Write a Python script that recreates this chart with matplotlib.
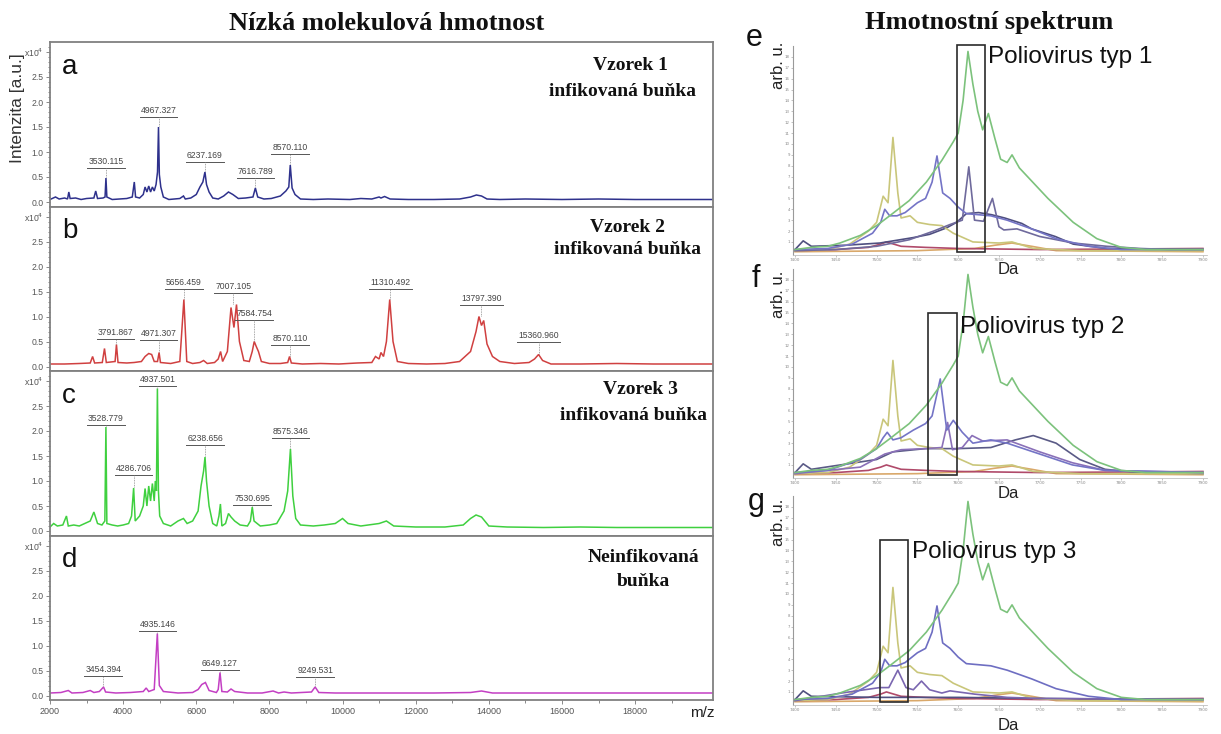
import matplotlib
matplotlib.use("Agg")
import matplotlib.pyplot as plt
from matplotlib.patches import Rectangle

# ---------------- data: left spectra (m/z, intensity x10^4) ----------------
A_MZ = [2000, 2150, 2250, 2400, 2480, 2515, 2550, 2700, 2850, 3000, 3200, 3250, 3300, 3450, 3505, 3530, 3555,
        3700, 3900, 4100, 4250, 4305, 4340, 4450, 4550, 4600, 4650, 4700, 4750, 4800, 4850, 4900, 4940, 4967,
        4990, 5030, 5100, 5250, 5400, 5550, 5650, 5700, 5850, 6000, 6100, 6180, 6237, 6280, 6350, 6450, 6600,
        6750, 6880, 7000, 7150, 7350, 7550, 7616, 7680, 7850, 8050, 8300, 8450, 8530, 8570, 8620, 8700, 8850,
        9200, 9600, 10200, 10500, 10800, 11000, 11050, 11150, 11300, 11800, 12500, 13200, 13500, 13660, 13800,
        13950, 14300, 15000, 16000, 17000, 18000, 19000, 20130]
A_I = [0.05, 0.10, 0.06, 0.08, 0.06, 0.20, 0.07, 0.08, 0.05, 0.07, 0.08, 0.22, 0.07, 0.08, 0.10, 0.48, 0.10,
       0.05, 0.06, 0.07, 0.10, 0.40, 0.10, 0.08, 0.15, 0.30, 0.20, 0.32, 0.20, 0.30, 0.22, 0.35, 0.60, 1.50,
       0.55, 0.30, 0.10, 0.05, 0.06, 0.07, 0.12, 0.06, 0.08, 0.15, 0.30, 0.40, 0.60, 0.35, 0.20, 0.08, 0.06,
       0.12, 0.20, 0.15, 0.07, 0.08, 0.10, 0.28, 0.10, 0.06, 0.07, 0.12, 0.22, 0.30, 0.74, 0.28, 0.15, 0.06,
       0.05, 0.06, 0.05, 0.07, 0.06, 0.10, 0.08, 0.11, 0.06, 0.05, 0.05, 0.06, 0.10, 0.14, 0.12,
       0.06, 0.05, 0.06, 0.05, 0.06, 0.05, 0.05, 0.05]

B_MZ = [2000, 2400, 2800, 3100, 3165, 3220, 3430, 3490, 3540, 3780, 3817, 3860, 4100, 4300, 4500, 4600, 4700,
        4780, 4850, 4940, 4983, 5020, 5300, 5550, 5661, 5740, 5900, 6100, 6200, 6300, 6500, 6600, 6665, 6720,
        6850, 6950, 7030, 7100, 7180, 7300, 7450, 7530, 7585, 7640, 7700, 7780, 8000, 8300, 8500, 8550, 8600,
        8900, 9400, 9900, 10400, 10800, 10900, 11000, 11050, 11120, 11200, 11290, 11380, 11500, 11800, 12300,
        12800, 13200, 13500, 13650, 13730, 13800, 13860, 13950, 14100, 14300, 14700, 15100, 15250, 15360,
        15470, 15700, 16500, 17500, 18500, 20130]
B_I = [0.05, 0.05, 0.06, 0.07, 0.20, 0.07, 0.08, 0.36, 0.08, 0.10, 0.44, 0.08, 0.07, 0.08, 0.10, 0.20, 0.26,
       0.24, 0.10, 0.10, 0.28, 0.08, 0.06, 0.10, 1.34, 0.10, 0.06, 0.08, 0.12, 0.06, 0.08, 0.15, 0.30, 0.10,
       0.30, 1.18, 0.78, 1.24, 0.50, 0.12, 0.10, 0.30, 0.50, 0.40, 0.30, 0.10, 0.06, 0.06, 0.08, 0.20, 0.07,
       0.05, 0.06, 0.05, 0.07, 0.08, 0.20, 0.15, 0.28, 0.20, 0.50, 1.34, 0.50, 0.10, 0.06, 0.05,
       0.06, 0.10, 0.30, 0.70, 1.00, 0.82, 0.92, 0.45, 0.20, 0.10, 0.06, 0.08, 0.15, 0.24,
       0.12, 0.05, 0.05, 0.06, 0.05, 0.05]

C_MZ = [2000, 2100, 2200, 2350, 2450, 2500, 2650, 2800, 2950, 3100, 3200, 3300, 3420, 3500, 3529, 3555, 3700,
        3850, 4000, 4150, 4230, 4287, 4330, 4450, 4550, 4600, 4650, 4700, 4750, 4800, 4850, 4880, 4910, 4937,
        4965, 5000, 5100, 5300, 5500, 5650, 5750, 5900, 6050, 6130, 6200, 6239, 6280, 6350, 6450, 6560, 6620,
        6660, 6700, 6800, 6880, 6950, 7050, 7200, 7400, 7480, 7531, 7580, 7750, 8000, 8200, 8400, 8500, 8575,
        8640, 8720, 8850, 9200, 9500, 9800, 10000, 10150, 10500, 11000, 11200, 11400, 12000, 12800, 13300,
        13500, 13650, 13800, 14000, 14500, 15500, 16500, 17500, 18500, 20130]
C_I = [0.08, 0.15, 0.10, 0.12, 0.30, 0.10, 0.12, 0.10, 0.15, 0.20, 0.38, 0.15, 0.12, 0.20, 2.08, 0.15, 0.12,
       0.10, 0.12, 0.15, 0.30, 0.86, 0.20, 0.30, 0.50, 0.85, 0.50, 0.90, 0.60, 0.95, 0.60, 1.00, 0.80, 2.85,
       0.80, 0.30, 0.15, 0.10, 0.20, 0.25, 0.15, 0.20, 0.40, 0.90, 1.20, 1.48, 1.00, 0.50, 0.15, 0.10, 0.30,
       0.54, 0.10, 0.15, 0.35, 0.28, 0.20, 0.12, 0.10, 0.20, 0.48, 0.20, 0.10, 0.12, 0.15, 0.40, 0.80, 1.64,
       0.70, 0.25, 0.12, 0.10, 0.12, 0.15, 0.25, 0.15, 0.10, 0.15, 0.20, 0.10, 0.08, 0.08, 0.12,
       0.25, 0.32, 0.28, 0.10, 0.08, 0.07, 0.08, 0.07, 0.07, 0.07]

D_MZ = [2000, 2300, 2500, 2600, 2900, 3100, 3200, 3350, 3465, 3520, 3800, 4200, 4550, 4630, 4700, 4850, 4935,
        4990, 5100, 5500, 5900, 6050, 6150, 6250, 6350, 6550, 6600, 6649, 6700, 6850, 6950, 7050, 7400, 7800,
        8100, 8250, 8400, 8600, 9150, 9250, 9350, 9800, 10500, 11500, 12500, 13500, 13800, 14100, 15500,
        17000, 18500, 20130]
D_I = [0.05, 0.06, 0.10, 0.05, 0.06, 0.10, 0.06, 0.08, 0.17, 0.07, 0.05, 0.06, 0.08, 0.15, 0.08, 0.12, 1.24,
       0.20, 0.08, 0.05, 0.06, 0.12, 0.22, 0.26, 0.10, 0.06, 0.12, 0.46, 0.08, 0.07, 0.13, 0.08, 0.05, 0.05,
       0.09, 0.05, 0.07, 0.05, 0.07, 0.17, 0.06, 0.05, 0.05, 0.05, 0.05, 0.06, 0.09, 0.05, 0.05,
       0.05, 0.05, 0.05]

# peak labels: m/z text, apex intensity, underline level
A_LAB = ["3530.115", "4967.327", "6237.169", "7616.789", "8570.110"]
A_LAB_APEX = [0.48, 1.50, 0.60, 0.28, 0.74]
A_LAB_Y = [0.68, 1.70, 0.80, 0.48, 0.96]
B_LAB = ["3791.867", "4971.307", "5656.459", "7007.105", "7584.754", "8570.110", "11310.492", "13797.390", "15360.960"]
B_LAB_APEX = [0.44, 0.28, 1.34, 1.24, 0.50, 0.20, 1.34, 1.00, 0.24]
B_LAB_Y = [0.56, 0.54, 1.56, 1.48, 0.94, 0.44, 1.56, 1.24, 0.50]
C_LAB = ["3528.779", "4286.706", "4937.501", "6238.656", "7530.695", "8575.346"]
C_LAB_APEX = [2.08, 0.86, 2.85, 1.48, 0.48, 1.64]
C_LAB_Y = [2.12, 1.12, 2.90, 1.72, 0.52, 1.86]
D_LAB = ["3454.394", "4935.146", "6649.127", "9249.531"]
D_LAB_APEX = [0.17, 1.24, 0.46, 0.17]
D_LAB_Y = [0.40, 1.30, 0.52, 0.38]

PANEL_LETTERS = ["a", "b", "c", "d"]
SAMPLE_LINE1 = ["Vzorek 1", "Vzorek 2", "Vzorek 3", "Neinfikovaná"]
SAMPLE_LINE2 = ["infikovaná buňka", "infikovaná buňka", "infikovaná buňka", "buňka"]
MZ_TICKS = [2000, 4000, 6000, 8000, 10000, 12000, 14000, 16000, 18000]
INT_TICKS = [0.0, 0.5, 1.0, 1.5, 2.0, 2.5]

# ---------------- data: right spectra (Da, arb. u.) ----------------
GREEN_DA = [7400, 7420, 7440, 7455, 7480, 7500, 7516, 7540, 7561, 7580, 7594, 7600, 7606, 7612, 7618, 7624,
            7630, 7637, 7645, 7652, 7660, 7666, 7675, 7690, 7710, 7741, 7770, 7800, 7830, 7900]
GREEN_Y = [0.3, 0.5, 0.6, 0.9, 1.6, 2.5, 3.4, 4.8, 6.5, 8.5, 10.2, 11.0, 14.0, 18.5, 15.5, 13.0,
           11.3, 12.8, 10.5, 8.6, 8.3, 9.0, 7.8, 6.6, 5.0, 2.8, 1.3, 0.5, 0.3, 0.3]
YELLOW_DA = [7400, 7440, 7467, 7490, 7500, 7508, 7514, 7520, 7526, 7530, 7541, 7550, 7565, 7580, 7594,
             7618, 7650, 7666, 7692, 7750, 7900]
YELLOW_Y = [0.2, 0.3, 0.8, 2.0, 2.8, 5.2, 4.6, 10.6, 5.5, 3.2, 3.4, 2.8, 2.6, 2.5, 1.8,
            1.0, 0.9, 1.0, 0.4, 0.2, 0.2]
BLUE_DA = [7400, 7440, 7470, 7495, 7505, 7510, 7516, 7525, 7535, 7550, 7560, 7568, 7574, 7581, 7590, 7600,
           7610, 7625, 7640, 7660, 7690, 7720, 7760, 7800, 7900]
BLUE_Y = [0.3, 0.4, 0.8, 1.8, 2.8, 4.0, 3.4, 3.4, 3.7, 4.6, 5.0, 6.5, 8.9, 5.5, 5.0, 4.2,
          3.6, 3.5, 3.4, 3.0, 2.2, 1.3, 0.6, 0.3, 0.3]
BLUE_F_DA = [7400, 7440, 7480, 7500, 7508, 7513, 7520, 7530, 7545, 7560, 7568, 7578, 7586, 7594, 7605,
             7618, 7640, 7660, 7700, 7740, 7780, 7900]
BLUE_F_Y = [0.3, 0.5, 1.5, 2.5, 3.5, 4.0, 3.3, 3.5, 4.2, 4.8, 5.5, 8.9, 4.2, 5.1, 4.0,
            3.0, 3.3, 3.0, 2.0, 1.0, 0.5, 0.3]
NAVY_E_DA = [7400, 7410, 7420, 7463, 7504, 7545, 7565, 7586, 7598, 7610, 7625, 7641, 7657, 7678, 7690,
             7719, 7741, 7782, 7900]
NAVY_E_Y = [0.3, 1.1, 0.6, 0.7, 0.9, 1.4, 1.7, 2.3, 2.8, 3.6, 3.7, 3.5, 3.2, 2.7, 2.2,
            1.5, 0.8, 0.4, 0.3]
SLATE_E_DA = [7400, 7450, 7500, 7540, 7570, 7590, 7605, 7613, 7620, 7631, 7642, 7650, 7656, 7672, 7700,
              7741, 7782, 7823, 7860, 7900]
SLATE_E_Y = [0.2, 0.3, 0.6, 1.2, 2.0, 2.6, 3.0, 7.9, 3.0, 2.9, 5.0, 2.4, 2.1, 2.2, 1.5,
             0.9, 0.6, 0.4, 0.3, 0.3]
PURPLE_F_DA = [7400, 7480, 7510, 7530, 7560, 7580, 7587, 7593, 7605, 7617, 7630, 7660, 7700, 7740, 7780, 7900]
PURPLE_F_Y = [0.2, 0.8, 2.0, 2.4, 2.5, 2.6, 4.9, 2.4, 2.6, 3.7, 3.2, 3.3, 2.2, 1.2, 0.5, 0.3]
NAVY_F_DA = [7400, 7410, 7420, 7500, 7520, 7560, 7600, 7640, 7670, 7692, 7720, 7749, 7780, 7820, 7900]
NAVY_F_Y = [0.3, 1.1, 0.6, 1.5, 2.2, 2.5, 2.5, 2.6, 3.3, 3.7, 3.0, 1.5, 0.6, 0.3, 0.2]
PURPLE_G_DA = [7400, 7457, 7504, 7515, 7526, 7536, 7545, 7555, 7565, 7580, 7590, 7620, 7660, 7700, 7900]
PURPLE_G_Y = [0.2, 0.9, 1.4, 1.4, 3.0, 1.4, 1.2, 2.0, 1.2, 0.9, 1.1, 0.8, 0.5, 0.4, 0.3]
NAVY_G_DA = [7400, 7410, 7420, 7500, 7600, 7700, 7900]
NAVY_G_Y = [0.3, 1.1, 0.6, 0.5, 0.5, 0.4, 0.3]
RED_DA = [7400, 7450, 7490, 7505, 7512, 7530, 7560, 7600, 7700, 7800, 7900]
RED_Y = [0.2, 0.3, 0.5, 0.8, 1.0, 0.6, 0.5, 0.4, 0.3, 0.35, 0.4]
ORANGE_DA = [7400, 7550, 7620, 7645, 7666, 7690, 7720, 7900]
ORANGE_Y = [0.1, 0.2, 0.4, 0.7, 0.9, 0.6, 0.2, 0.1]

DA_TICKS = [7400, 7450, 7500, 7550, 7600, 7650, 7700, 7750, 7800, 7850, 7900]
ARB_TICKS = list(range(1, 19))
BOX_E = [7598, 7633, 0.1, 19.1]
BOX_F = [7563, 7598, 0.1, 15.0]
BOX_G = [7504, 7538, 0.1, 15.0]
POLIO_LABELS = ["Poliovirus typ 1", "Poliovirus typ 2", "Poliovirus typ 3"]

# ---------------- figure ----------------
W, H = 1221, 734
fig = plt.figure(figsize=(W / 100, H / 100), dpi=100)
fig.patch.set_facecolor("white")
SERIF = ["Liberation Serif", "DejaVu Serif"]
SANS = ["Liberation Sans", "DejaVu Sans"]


def px_axes(l, t, r, b):
    return fig.add_axes([l / W, 1 - b / H, (r - l) / W, (b - t) / H])


def ftext(px, py, s, **kw):
    fig.text(px / W, 1 - py / H, s, **kw)


# titles
ftext(387, 24, "Nízká molekulová hmotnost", family=SERIF, weight="bold", fontsize=19,
      ha="center", va="center", color="#111111")
ftext(989, 22, "Hmotnostní spektrum", family=SERIF, weight="bold", fontsize=19,
      ha="center", va="center", color="#111111")

left_data = [(A_MZ, A_I, A_LAB, A_LAB_APEX, A_LAB_Y, "#2e318c"),
             (B_MZ, B_I, B_LAB, B_LAB_APEX, B_LAB_Y, "#d04040"),
             (C_MZ, C_I, C_LAB, C_LAB_APEX, C_LAB_Y, "#3fd03f"),
             (D_MZ, D_I, D_LAB, D_LAB_APEX, D_LAB_Y, "#c33fc3")]

PH = 164.5
sample_pos = [((630, 65), (623, 92)), ((628, 227), (628, 250)),
              ((640, 389), (633, 415)), ((643, 557), (643, 582))]
data_per_px = (20130 - 2000) / 663.0

for i, (mz, inten, labs, apex, laby, col) in enumerate(left_data):
    top = 42 + i * PH
    ax = px_axes(50, top, 713, top + PH)
    ax.set_xlim(2000, 20130)
    ax.set_ylim(-0.09, 3.2)
    ax.plot(mz, inten, color=col, lw=1.1, solid_joinstyle="miter")
    for txt, ap, uy in zip(labs, apex, laby):
        x = float(txt)
        hw = len(txt) * 2.35 * data_per_px
        ax.plot([x - hw, x + hw], [uy, uy], color="#555555", lw=0.7)
        ax.plot([x, x], [ap + 0.02, uy], color="#8a8a8a", lw=0.6, ls=(0, (1, 1)))
        ax.text(x, uy + 0.035, txt, ha="center", va="bottom", fontsize=6.2,
                color="#444444", family=SANS)
    for s in ax.spines.values():
        s.set_color("#808080")
        s.set_linewidth(1.3)
    ax.set_yticks(INT_TICKS + [3.0])
    ax.set_yticklabels([f"{v:.1f}" for v in INT_TICKS] + ["x10$^4$"], fontsize=6.2,
                       color="#555555", family=SANS)
    ax.set_yticks([v / 10 for v in range(0, 32)], minor=True)
    ax.tick_params(axis="y", which="major", length=3, width=0.6, color="#777777", pad=1.5)
    ax.tick_params(axis="y", which="minor", length=1.5, width=0.6, color="#777777")
    ax.set_xticks(MZ_TICKS)
    ax.set_xticks(list(range(3000, 20001, 2000)), minor=True)
    if i == 3:
        ax.set_xticklabels([str(v) for v in MZ_TICKS], fontsize=6.5, color="#555555", family=SANS)
        ax.tick_params(axis="x", which="major", length=3, width=0.6, color="#777777", pad=2)
        ax.tick_params(axis="x", which="minor", length=2, width=0.6, color="#777777")
    else:
        ax.set_xticklabels([])
        ax.tick_params(axis="x", which="both", length=0)
    ax.text(0.018, 0.93, PANEL_LETTERS[i], transform=ax.transAxes, fontsize=20,
            family=SANS, ha="left", va="top", color="#111111")
    (x1, y1), (x2, y2) = sample_pos[i]
    ftext(x1, y1, SAMPLE_LINE1[i], family=SERIF, weight="bold", fontsize=14,
          ha="center", va="center", color="#111111")
    ftext(x2, y2, SAMPLE_LINE2[i], family=SERIF, weight="bold", fontsize=14,
          ha="center", va="center", color="#111111")

ftext(18, 108, "Intenzita [a.u.]", rotation=90, fontsize=12.5, family=SANS,
      ha="center", va="center", color="#333333")
ftext(715, 713, "m/z", fontsize=11, family=SANS, ha="right", va="center", color="#222222")

# ---------------- right panels ----------------
right_specs = [
    (46, 255, [(ORANGE_DA, ORANGE_Y, "#d9a86a"), (RED_DA, RED_Y, "#b04a6a"),
               (NAVY_E_DA, NAVY_E_Y, "#4f4f80"), (YELLOW_DA, YELLOW_Y, "#c9c67a"),
               (SLATE_E_DA, SLATE_E_Y, "#6f6a9c"), (BLUE_DA, BLUE_Y, "#7474c6"),
               (GREEN_DA, GREEN_Y, "#7cc27c")], BOX_E, "e", (988, 57), 0),
    (269, 478, [(ORANGE_DA, ORANGE_Y, "#d9a86a"), (RED_DA, RED_Y, "#b04a6a"),
                (NAVY_F_DA, NAVY_F_Y, "#5a5a86"), (YELLOW_DA, YELLOW_Y, "#c9c67a"),
                (PURPLE_F_DA, PURPLE_F_Y, "#8a70b8"), (BLUE_F_DA, BLUE_F_Y, "#7474c6"),
                (GREEN_DA, GREEN_Y, "#7cc27c")], BOX_F, "f", (960, 327), 1),
    (496, 705, [(ORANGE_DA, ORANGE_Y, "#d9a86a"), (RED_DA, RED_Y, "#b04a6a"),
                (NAVY_G_DA, NAVY_G_Y, "#4f4f80"), (YELLOW_DA, YELLOW_Y, "#c9c67a"),
                (PURPLE_G_DA, PURPLE_G_Y, "#7a66b0"), (BLUE_DA, BLUE_Y, "#6e6ec2"),
                (GREEN_DA, GREEN_Y, "#7cc27c")], BOX_G, "g", (912, 552), 2),
]
letter_pos = [(746, 38), (752, 279), (748, 502)]
arb_pos = [(778, 65), (778, 294), (778, 522)]
da_pos = [(1008, 270), (1008, 494), (1008, 725)]

for k, (t, b, traces, box, letter, (lx, ly), idx) in enumerate(right_specs):
    ax = px_axes(793, t, 1207, b)
    ax.set_xlim(7397.5, 7905)
    ax.set_ylim(-0.2, 19)
    for xs, ys, c in traces:
        ax.plot(xs, ys, color=c, lw=1.2)
    x0, x1, y0, y1 = box
    ax.add_patch(Rectangle((x0, y0), x1 - x0, y1 - y0, fill=False, ec="#2a2a2a",
                           lw=1.2, clip_on=False, zorder=5))
    for side in ("top", "right"):
        ax.spines[side].set_visible(False)
    ax.spines["left"].set_color("#9a9a9a")
    ax.spines["left"].set_linewidth(0.8)
    ax.spines["left"].set_linestyle((0, (1, 1)))
    ax.spines["bottom"].set_color("#c0c0c0")
    ax.spines["bottom"].set_linewidth(0.6)
    ax.set_yticks(ARB_TICKS)
    ax.set_yticklabels([str(v) for v in ARB_TICKS], fontsize=2.8, color="#888888")
    ax.set_xticks(DA_TICKS)
    ax.set_xticklabels([str(v) for v in DA_TICKS], fontsize=3.0, color="#888888")
    ax.tick_params(axis="both", length=1.5, width=0.5, color="#aaaaaa", pad=0.8)
    ftext(lx, ly, POLIO_LABELS[idx], fontsize=17.5, family=SANS, ha="left",
          va="center", color="#111111")
    ftext(letter_pos[k][0], letter_pos[k][1], letter, fontsize=22, family=SANS,
          ha="left", va="center", color="#111111")
    ftext(arb_pos[k][0], arb_pos[k][1], "arb. u.", rotation=90, fontsize=12,
          family=SANS, ha="center", va="center", color="#222222")
    ftext(da_pos[k][0], da_pos[k][1], "Da", fontsize=12, family=SANS,
          ha="center", va="center", color="#222222")

fig.savefig("out.png", dpi=100, facecolor="white")
